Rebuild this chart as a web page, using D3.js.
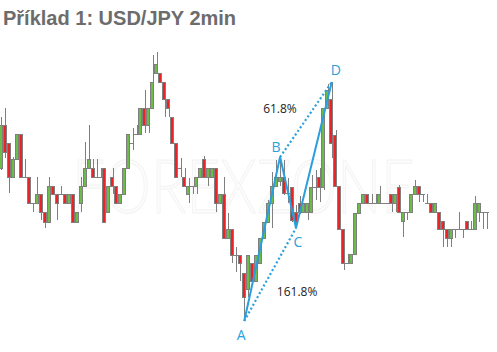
<!DOCTYPE html>
<html>
<head>
<meta charset="utf-8">
<script src="https://cdn.jsdelivr.net/npm/d3@7"></script>
<style>
  body { margin: 0; background: #fff; }
  svg { display: block; }
</style>
</head>
<body>
<svg id="chart"></svg>
<script>
// USD/JPY 2min bars, prices in points
const openP  = [182,225,207,173,191,216,173,173,147,147,156,138,128,164,156,156,156,147,156,128,147,164,182,182,173,173,182,138,173,164,
                147,156,182,207,216,216,242,225,242,277,277,268,251,233,207,182,173,156,164,164,173,191,173,173,182,147,156,112,121,95,
                95,77,61,87,69,87,112,128,147,164,169,173,157,163,138,147,138,138,138,163,173,163,242,251,215,164,121,87,87,96,
                137,147,156,147,147,147,147,147,156,147,163,129,138,138,156,164,156,147,147,138,138,129,121,112,121,121,121,129,121,121,
                138,138,138];
const highP  = [233,242,207,193,216,216,191,173,147,173,156,138,173,164,156,164,156,156,156,138,173,208,225,191,191,182,182,164,182,164,
                156,182,216,222,225,242,260,242,295,298,277,268,251,233,207,192,182,172,164,173,182,194,182,182,182,156,173,137,121,103,
                95,77,95,87,95,112,128,150,178,190,193,190,172,163,145,154,147,147,175,180,182,242,266,268,220,164,121,96,96,137,
                147,156,156,156,156,164,147,147,156,156,165,138,138,156,170,164,156,156,147,147,138,129,121,121,121,138,121,129,129,154,
                147,138,138];
const lowP   = [180,192,157,172,191,173,173,147,138,147,130,122,128,156,130,156,147,147,128,128,138,164,182,173,173,173,128,138,156,147,
                147,156,182,200,216,216,217,217,242,277,268,233,233,207,173,173,164,147,156,156,173,173,164,173,138,147,112,112,87,78,
                69,29,53,68,69,87,112,128,122,164,164,155,147,128,122,136,138,130,138,150,148,160,242,192,164,121,80,87,87,96,
                137,147,147,147,147,147,147,147,138,138,138,113,130,138,156,148,148,147,138,138,121,103,103,103,112,121,112,121,121,121,
                128,121,121];
const closeP = [225,198,173,191,216,173,173,147,147,156,138,128,164,156,147,156,147,156,128,138,164,182,191,173,173,173,128,164,164,147,
                156,182,216,207,216,242,225,242,268,286,268,251,242,207,173,182,164,164,164,173,182,173,182,182,147,156,112,121,95,95,
                87,53,95,69,95,112,128,147,164,173,173,157,157,130,128,138,147,147,163,163,163,242,260,207,164,121,87,87,96,137,
                147,156,147,147,147,156,147,147,147,156,138,138,138,156,164,156,156,147,138,147,121,121,112,121,121,121,121,121,121,147,
                147,138,138];

// ABCD pattern: bar index of each point and which extreme it sits on
const patternNames = ['A', 'B', 'C', 'D'];
const patternBars  = [61, 70, 74, 83];
const patternSide  = ['low', 'high', 'low', 'high'];
const ratioLabels  = ['61.8%', '161.8%'];

const title = 'Příklad 1: USD/JPY 2min';
const watermark = 'FOREXZONE';

const width = 497, height = 352;
const green = '#6bbd47', red = '#ec2227', edge = '#7f7f7f', blue = '#2a9fdd';

const svg = d3.select('#chart')
  .attr('width', width)
  .attr('height', height);

svg.append('rect').attr('width', width).attr('height', height).attr('fill', '#fff');

const bars = d3.range(openP.length);

// set the ranges
const x = d3.scaleBand().domain(bars).range([-0.5, -0.5 + 3.98 * bars.length]).paddingInner(0);
const y = d3.scaleLinear().domain([0, 350]).range([350, 0]);
const cx = i => x(i) + x.bandwidth() / 2;

// faint watermark
svg.append('text')
  .attr('x', 72)
  .attr('y', 213)
  .attr('textLength', 343)
  .attr('lengthAdjust', 'spacingAndGlyphs')
  .style('font-family', 'Lato, "Open Sans", sans-serif')
  .style('font-weight', 300)
  .style('font-size', '74px')
  .attr('fill', '#fcfcfc')
  .attr('stroke', '#f3f3f3')
  .attr('stroke-width', 1)
  .text(watermark);

const g = svg.append('g').attr('shape-rendering', 'crispEdges');

// wicks
g.selectAll('line.wick')
  .data(bars.filter(i => highP[i] !== lowP[i]))
  .join('line')
  .attr('class', 'wick')
  .attr('x1', i => Math.round(cx(i)) + 0.5)
  .attr('x2', i => Math.round(cx(i)) + 0.5)
  .attr('y1', i => y(highP[i]))
  .attr('y2', i => y(lowP[i]))
  .attr('stroke', edge)
  .attr('stroke-width', 1);

// flat bars (open == close)
g.selectAll('line.doji')
  .data(bars.filter(i => openP[i] === closeP[i]))
  .join('line')
  .attr('class', 'doji')
  .attr('x1', i => Math.floor(x(i)))
  .attr('x2', i => Math.floor(x(i)) + 4)
  .attr('y1', i => Math.round(y(openP[i])) + 0.5)
  .attr('y2', i => Math.round(y(openP[i])) + 0.5)
  .attr('stroke', edge)
  .attr('stroke-width', 1.2);

// bodies
g.selectAll('rect.body')
  .data(bars.filter(i => openP[i] !== closeP[i]))
  .join('rect')
  .attr('class', 'body')
  .attr('x', i => Math.floor(x(i)) + 0.5)
  .attr('y', i => Math.round(y(Math.max(openP[i], closeP[i]))) + 0.5)
  .attr('width', 3)
  .attr('height', i => Math.round(Math.abs(y(openP[i]) - y(closeP[i]))))
  .attr('fill', i => closeP[i] > openP[i] ? green : red)
  .attr('stroke', edge)
  .attr('stroke-width', 1.3);

// pattern points
const pts = patternBars.map((b, k) => [cx(b), y(patternSide[k] === 'low' ? lowP[b] : highP[b])]);

const pat = svg.append('g');

// dotted projections A-C and B-D
[[0, 2], [1, 3]].forEach(([a, b]) => {
  pat.append('line')
    .attr('x1', pts[a][0]).attr('y1', pts[a][1])
    .attr('x2', pts[b][0]).attr('y2', pts[b][1])
    .attr('stroke', blue)
    .attr('stroke-width', 2.2)
    .attr('stroke-dasharray', '2 2.4');
});

// solid A-B-C-D
pat.append('path')
  .attr('d', d3.line()(pts))
  .attr('fill', 'none')
  .attr('stroke', blue)
  .attr('stroke-width', 2)
  .attr('stroke-linejoin', 'miter');

// point letters
const letterOffset = [[-3, 19], [-4, -5], [2, 19], [4, -7]];
pat.selectAll('text.pt')
  .data(patternNames)
  .join('text')
  .attr('class', 'pt')
  .attr('x', (d, k) => pts[k][0] + letterOffset[k][0])
  .attr('y', (d, k) => pts[k][1] + letterOffset[k][1])
  .attr('text-anchor', 'middle')
  .style('font-family', '"Open Sans", "Noto Sans", sans-serif')
  .style('font-size', '14px')
  .attr('fill', blue)
  .text(d => d);

// retracement / extension labels
const ratioPos = [
  [(pts[1][0] + pts[3][0]) / 2 - 26, (pts[1][1] + pts[3][1]) / 2 - 7],
  [(pts[0][0] + pts[2][0]) / 2 + 27, (pts[0][1] + pts[2][1]) / 2 + 21]
];
pat.selectAll('text.ratio')
  .data(ratioLabels)
  .join('text')
  .attr('class', 'ratio')
  .attr('x', (d, k) => ratioPos[k][0])
  .attr('y', (d, k) => ratioPos[k][1])
  .attr('text-anchor', 'middle')
  .style('font-family', '"Open Sans", "Noto Sans", sans-serif')
  .style('font-size', '12px')
  .attr('fill', '#222')
  .text(d => d);

// title
svg.append('text')
  .attr('x', 3)
  .attr('y', 25)
  .style('font-family', '"Liberation Sans", Arial, sans-serif')
  .style('font-weight', 'bold')
  .style('font-size', '20px')
  .attr('fill', '#6c6c6c')
  .text(title);
</script>
</body>
</html>
